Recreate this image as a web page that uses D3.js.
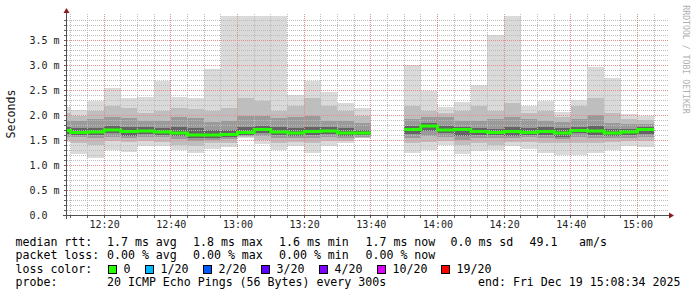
<!DOCTYPE html>
<html>
<head>
<meta charset="utf-8">
<script src="https://cdn.jsdelivr.net/npm/d3@7"></script>
<style>
body{margin:0;background:#fff;}
svg text{font-family:"DejaVu Sans Mono",monospace;}
</style>
</head>
<body>
<svg id="chart" width="697" height="297"></svg>
<script>
// 5 minute bins (start time), null = no data
var binStart = ["12:05","12:10","12:15","12:20","12:25","12:30","12:35","12:40","12:45","12:50",
  "12:55","13:00","13:05","13:10","13:15","13:20","13:25","13:30","13:35","13:40",
  "13:45","13:50","13:55","14:00","14:05","14:10","14:15","14:20","14:25","14:30",
  "14:35","14:40","14:45","14:50","14:55","15:00"];
// rtt in ms, outer smoke (min / max)
var rttMax = [2.18,2.12,2.29,2.56,2.36,2.38,2.68,2.38,2.36,2.93,4.0,4.0,4.0,4.0,2.41,2.68,2.48,2.26,2.15,null,
  null,3.01,2.49,2.17,2.27,2.61,3.61,4.0,2.19,2.29,2.07,2.32,2.98,2.76,2.03,2.0];
var rttHi2 = [2.05,2.0,2.1,2.2,2.15,2.05,2.1,2.15,2.13,2.1,2.15,2.35,2.3,2.1,2.2,2.35,2.2,2.1,2.0,null,
  null,2.2,2.1,2.05,2.1,2.2,2.1,2.25,2.05,2.1,1.98,2.2,2.35,2.05,1.93,1.92];
var rttHi3 = [1.9,1.9,1.93,1.98,1.95,1.9,1.9,1.97,1.95,1.88,1.9,2.0,2.0,1.95,1.97,2.0,1.9,1.9,1.85,null,
  null,1.93,1.98,1.97,1.9,1.9,1.93,1.98,1.93,1.9,1.88,1.93,2.02,1.85,1.83,1.83];
var rttHi4 = [1.78,1.75,1.76,1.8,1.78,1.77,1.76,1.77,1.75,1.72,1.72,1.78,1.8,1.77,1.76,1.78,1.77,1.75,1.72,null,
  null,1.8,1.85,1.8,1.78,1.76,1.74,1.78,1.75,1.77,1.75,1.77,1.8,1.73,1.74,1.77];
var rttMedian = [1.70,1.66,1.67,1.71,1.68,1.69,1.67,1.65,1.61,1.61,1.62,1.66,1.72,1.67,1.65,1.68,1.69,1.65,1.65,null,
  null,1.72,1.79,1.71,1.72,1.68,1.66,1.68,1.66,1.68,1.65,1.70,1.69,1.65,1.67,1.72];
var rttLo4 = [1.64,1.62,1.62,1.65,1.6,1.63,1.62,1.6,1.56,1.56,1.58,1.62,1.65,1.62,1.6,1.62,1.63,1.6,1.61,null,
  null,1.64,1.7,1.65,1.6,1.62,1.61,1.6,1.62,1.62,1.58,1.65,1.62,1.6,1.62,1.64];
var rttLo3 = [1.58,1.57,1.55,1.58,1.55,1.58,1.57,1.53,1.5,1.52,1.53,1.6,1.6,1.55,1.55,1.55,1.58,1.55,1.58,null,
  null,1.55,1.6,1.58,1.52,1.55,1.55,1.55,1.58,1.55,1.53,1.58,1.55,1.55,1.56,1.58];
var rttLo2 = [1.52,1.45,1.42,1.5,1.47,1.5,1.48,1.42,1.4,1.45,1.46,1.57,1.52,1.45,1.48,1.45,1.5,1.5,1.56,null,
  null,1.45,1.47,1.5,1.42,1.45,1.42,1.47,1.48,1.45,1.45,1.45,1.45,1.47,1.5,1.5];
var rttMin = [1.47,1.23,1.15,1.30,1.26,1.40,1.39,1.31,1.25,1.33,1.37,1.55,1.43,1.30,1.39,1.25,1.39,1.45,1.55,null,
  null,1.25,1.30,1.41,1.22,1.28,1.30,1.39,1.32,1.25,1.20,1.21,1.25,1.30,1.39,1.37];

var timeTicks = ["12:20","12:40","13:00","13:20","13:40","14:00","14:20","14:40","15:00"];
var yTicks = [0,0.5,1.0,1.5,2.0,2.5,3.0,3.5];
var yTickLabels = ["0.0","0.5 m","1.0 m","1.5 m","2.0 m","2.5 m","3.0 m","3.5 m"];

var lossLabels = ["0","1/20","2/20","3/20","4/20","10/20","19/20"];
var lossColors = ["#26ff00","#00b8ff","#0059ff","#5e00ff","#7e00ff","#dd00ff","#ff0000"];

var plotLeft = 66, plotRight = 666, plotTop = 13.5, plotBottom = 215.5;
var parseHM = d3.timeParse("%H:%M");
var parseHMS = d3.timeParse("%H:%M:%S");
var step = 5*60*1000;

var data = binStart.map(function(s,i){
  return {t: parseHM(s), max: rttMax[i], hi2: rttHi2[i], hi3: rttHi3[i], hi4: rttHi4[i],
    med: rttMedian[i], lo4: rttLo4[i], lo3: rttLo3[i], lo2: rttLo2[i], min: rttMin[i]};
});

var x = d3.scaleTime()
  .domain([parseHMS("12:08:34"), parseHMS("15:08:34")])
  .range([plotLeft, plotRight]);
var y = d3.scaleLinear()
  .domain([0, 4.04])
  .range([plotBottom, plotTop]);

var svg = d3.select("#chart");
svg.append("defs").append("clipPath").attr("id","plot")
  .append("rect").attr("x",plotLeft+1).attr("y",plotTop).attr("width",plotRight-plotLeft).attr("height",plotBottom-plotTop);

/* smoke */
var smoke = svg.append("g").attr("clip-path","url(#plot)").attr("shape-rendering","crispEdges");
var bands = [["min","max","#dadada"],["lo2","hi2","#bebebe"],["lo3","hi3","#9a9a9a"],["lo4","hi4","#646464"]];
bands.forEach(function(b){
  smoke.append("g").selectAll("rect")
    .data(data.filter(function(d){return d.med != null;}))
    .enter().append("rect")
    .attr("x", function(d){return Math.round(x(d.t));})
    .attr("width", function(d){return Math.round(x(new Date(+d.t+step))) - Math.round(x(d.t));})
    .attr("y", function(d){return Math.round(y(Math.min(d[b[1]],4.0)));})
    .attr("height", function(d){return Math.round(y(d[b[0]])) - Math.round(y(Math.min(d[b[1]],4.0)));})
    .attr("fill", b[2]);
});

/* grid */
var gridTop = 14, gridBottom = 215;
var grid = svg.append("g");
function px(v){ return Math.floor(v) + 0.5; }
var minorY = d3.range(1,41).map(function(i){return i/10;}).filter(function(v){return Math.round(v*10)%5 != 0;});
grid.selectAll(".hmin").data(minorY).enter().append("line")
  .attr("x1",plotLeft+1).attr("x2",plotRight+2)
  .attr("y1",function(d){return px(y(d));}).attr("y2",function(d){return px(y(d));})
  .attr("stroke","#bcbcbc").attr("stroke-dasharray","1,1");
var minorX = d3.timeMinute.every(5).range(x.domain()[0], x.domain()[1]).filter(function(d){return d.getMinutes()%20 != 0;});
grid.selectAll(".vmin").data(minorX).enter().append("line")
  .attr("x1",function(d){return px(x(d));}).attr("x2",function(d){return px(x(d));})
  .attr("y1",gridTop).attr("y2",gridBottom)
  .attr("stroke","#bcbcbc").attr("stroke-dasharray","1,1");
grid.selectAll(".hmaj").data(yTicks.slice(1)).enter().append("line")
  .attr("x1",plotLeft+1).attr("x2",plotRight+2)
  .attr("y1",function(d){return px(y(d));}).attr("y2",function(d){return px(y(d));})
  .attr("stroke","#e28c8c").attr("stroke-dasharray","1,1");
grid.selectAll(".vmaj").data(timeTicks).enter().append("line")
  .attr("x1",function(d){return px(x(parseHM(d)));}).attr("x2",function(d){return px(x(parseHM(d)));})
  .attr("y1",gridTop).attr("y2",gridBottom)
  .attr("stroke","#e28c8c").attr("stroke-dasharray","1,1");

/* median */
var medPts = [];
data.forEach(function(d){
  medPts.push({t: d.t, v: d.med});
  medPts.push({t: new Date(+d.t+step), v: d.med});
});
var line = d3.line()
  .defined(function(d){return d.v != null;})
  .x(function(d){return x(d.t);})
  .y(function(d){return y(d.v);});
svg.append("g").attr("clip-path","url(#plot)")
  .append("path").attr("d", line(medPts))
  .attr("fill","none").attr("stroke",lossColors[0]).attr("stroke-width",3);

/* axes */
var ax = svg.append("g").attr("shape-rendering","crispEdges");
ax.append("line").attr("x1",plotLeft+0.5).attr("x2",plotLeft+0.5).attr("y1",10).attr("y2",plotBottom+3).attr("stroke","#505050");
ax.append("line").attr("x1",plotLeft-3).attr("x2",plotRight+4).attr("y1",plotBottom).attr("y2",plotBottom).attr("stroke","#505050");
ax.selectAll(".yt").data(minorY.concat(yTicks.slice(1))).enter().append("line")
  .attr("x1",plotLeft-2).attr("x2",plotLeft)
  .attr("y1",function(d){return px(y(d));}).attr("y2",function(d){return px(y(d));})
  .attr("stroke","#606060");
ax.selectAll(".xt").data(minorX.concat(timeTicks.map(parseHM))).enter().append("line")
  .attr("x1",function(d){return px(x(d));}).attr("x2",function(d){return px(x(d));})
  .attr("y1",plotBottom).attr("y2",plotBottom+2)
  .attr("stroke","#606060");
svg.append("path").attr("d","M63.5,13 L66.5,8 L69.5,13 Z").attr("fill","#8c1c1c");
svg.append("path").attr("d","M669,212.5 L674,215.5 L669,218.5 Z").attr("fill","#8c1c1c");

svg.selectAll(".ylab").data(yTicks).enter().append("text")
  .attr("x",29.5).attr("y",function(d){return y(d)+3.5;})
  .attr("font-size","10px").attr("fill","#222")
  .text(function(d,i){return yTickLabels[i];});
svg.selectAll(".xlab").data(timeTicks).enter().append("text")
  .attr("x",function(d){return x(parseHM(d))+0.5;}).attr("y",228)
  .attr("text-anchor","middle").attr("font-size","10px").attr("fill","#222")
  .text(function(d){return d;});

svg.append("text").attr("transform","translate(15,114) rotate(-90)")
  .attr("text-anchor","middle").attr("font-size","11.6px").attr("fill","#111").text("Seconds");
svg.append("text").attr("transform","translate(683,59.5) rotate(90)")
  .attr("text-anchor","middle").attr("font-size","8.2px").attr("fill","#b0b0b0").text("RRDTOOL / TOBI OETIKER");

/* legend */
var legend = svg.append("g").attr("font-size","11.6px").attr("fill","#000");
var rows = [
  [[15.5,"median rtt:"],[107,"1.7 ms avg"],[193,"1.8 ms max"],[279,"1.6 ms min"],[365.5,"1.7 ms now"],[450.5,"0.0 ms sd"],[529.5,"49.1"],[579,"am/s"]],
  [[15.5,"packet loss:"],[107,"0.00 % avg"],[193,"0.00 % max"],[279,"0.00 % min"],[365.5,"0.00 % now"]],
  [[15.5,"loss color:"]],
  [[15.5,"probe:"],[107,"20 ICMP Echo Pings (56 Bytes) every 300s"],[478,"end: Fri Dec 19 15:08:34 2025"]]
];
var baselines = [245.5,259,272.7,286.3];
rows.forEach(function(r,i){
  r.forEach(function(it){
    legend.append("text").attr("x",it[0]).attr("y",baselines[i]).attr("xml:space","preserve").text(it[1]);
  });
});
var boxX = [108.5,145.5,203.5,261.5,319.5,377.5,441.5];
lossLabels.forEach(function(l,i){
  legend.append("rect").attr("x",boxX[i]).attr("y",265.5).attr("width",8).attr("height",8)
    .attr("fill",lossColors[i]).attr("stroke","#000").attr("stroke-width",1).attr("shape-rendering","crispEdges");
  legend.append("text").attr("x",boxX[i]+15).attr("y",baselines[2]).text(l);
});
</script>
</body>
</html>
